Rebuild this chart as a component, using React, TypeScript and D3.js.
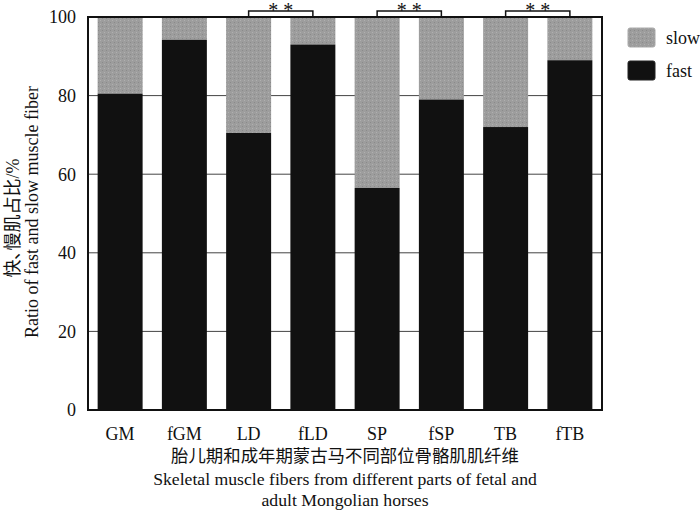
import React from "react";
import * as d3 from "d3";

const categories = ["GM", "fGM", "LD", "fLD", "SP", "fSP", "TB", "fTB"];
const fastValues = [80.5, 94.2, 70.5, 93.0, 56.5, 79.0, 72.0, 89.0];
const slowValues = fastValues.map((v) => 100 - v);
const yTicks = [0, 20, 40, 60, 80, 100];
const sigPairs: [string, string, string][] = [
  ["LD", "fLD", "* *"],
  ["SP", "fSP", "* *"],
  ["TB", "fTB", "* *"],
];
const legendItems = [
  { label: "slow", color: "#9b9b9b" },
  { label: "fast", color: "#111111" },
];

const W = 700;
const H = 511;
const M = { left: 88, right: 602, top: 17, bottom: 410 };
const FONT = "'Liberation Serif', 'Times New Roman', 'Noto Sans CJK SC', serif";

export default function App() {
  const x = d3
    .scaleBand<string>()
    .domain(categories)
    .range([M.left, M.right])
    .paddingInner(0.3)
    .paddingOuter(0.15);
  const y = d3.scaleLinear().domain([0, 100]).range([M.bottom, M.top]);
  const bw = x.bandwidth();

  return (
    <svg
      width={W}
      height={H}
      style={{ position: "absolute", left: 0, top: 0, background: "#fff" }}
      fontFamily={FONT}
    >
      <defs>
        <pattern id="stip" width="4" height="4" patternUnits="userSpaceOnUse">
          <rect width="4" height="4" fill="#9d9d9d" />
          <rect x="0" y="0" width="1" height="1" fill="#b0b0b0" />
          <rect x="2" y="2" width="1" height="1" fill="#8a8a8a" />
        </pattern>
      </defs>
      <rect x={0} y={0} width={W} height={H} fill="#fff" />
      {/* gridlines */}
      {yTicks
        .filter((t) => t > 0 && t < 100)
        .map((t) => (
          <line
            key={"g" + t}
            x1={M.left}
            x2={M.right}
            y1={y(t)}
            y2={y(t)}
            stroke="#444"
            strokeWidth={1}
          />
        ))}
      {/* bars */}
      {categories.map((c, i) => (
        <g key={c}>
          <rect
            x={x(c)!}
            y={y(100)}
            width={bw}
            height={y(100 - slowValues[i]) - y(100)}
            fill="url(#stip)"
          />
          <rect
            x={x(c)!}
            y={y(fastValues[i])}
            width={bw}
            height={y(0) - y(fastValues[i])}
            fill="#111"
          />
        </g>
      ))}
      {/* frame */}
      <rect
        x={M.left}
        y={M.top}
        width={M.right - M.left}
        height={M.bottom - M.top}
        fill="none"
        stroke="#111"
        strokeWidth={2}
      />
      {/* y ticks */}
      {yTicks.map((t) => (
        <text
          key={"t" + t}
          x={M.left - 12}
          y={y(t)}
          dy="0.35em"
          textAnchor="end"
          fontSize={18}
          fill="#111"
        >
          {t}
        </text>
      ))}
      {/* x labels */}
      {categories.map((c) => (
        <text
          key={"x" + c}
          x={x(c)! + bw / 2}
          y={440}
          textAnchor="middle"
          fontSize={18}
          fill="#111"
        >
          {c}
        </text>
      ))}
      {/* significance brackets */}
      {sigPairs.map(([a, b, s]) => {
        const xa = x(a)! + bw / 2;
        const xb = x(b)! + bw / 2;
        const yt = M.top - 6;
        return (
          <g key={a + b}>
            <path
              d={`M${xa},${M.top}V${yt}H${xb}V${M.top}`}
              fill="none"
              stroke="#111"
              strokeWidth={1.5}
            />
            <text
              x={(xa + xb) / 2}
              y={17}
              textAnchor="middle"
              fontSize={20}
              fill="#111"
            >
              {s}
            </text>
          </g>
        );
      })}
      {/* legend */}
      {legendItems.map((l, i) => (
        <g key={l.label} transform={`translate(628, ${28 + i * 33})`}>
          <rect
            width={27}
            height={19}
            rx={2}
            fill={i === 0 ? "url(#stip)" : l.color}
            stroke={i === 0 ? "#aaa" : "#222"}
            strokeWidth={1}
          />
          <text x={38} y={9.5} dy="0.35em" fontSize={18} fill="#111">
            {l.label}
          </text>
        </g>
      ))}
      {/* y axis title */}
      <text
        transform={`translate(19, 218) rotate(-90)`}
        textAnchor="middle"
        fontSize={18}
        fill="#111"
      >
        快､慢肌占比/%
      </text>
      <text
        transform={`translate(38, 212) rotate(-90)`}
        textAnchor="middle"
        fontSize={18}
        fill="#111"
      >
        Ratio of fast and slow muscle fiber
      </text>
      {/* x axis title */}
      <text x={345} y={462} textAnchor="middle" fontSize={17.4} fill="#111">
        胎儿期和成年期蒙古马不同部位骨骼肌肌纤维
      </text>
      <text x={345} y={485} textAnchor="middle" fontSize={17.7} fill="#111">
        Skeletal muscle fibers from different parts of fetal and
      </text>
      <text x={345} y={506} textAnchor="middle" fontSize={17.7} fill="#111">
        adult Mongolian horses
      </text>
    </svg>
  );
}
